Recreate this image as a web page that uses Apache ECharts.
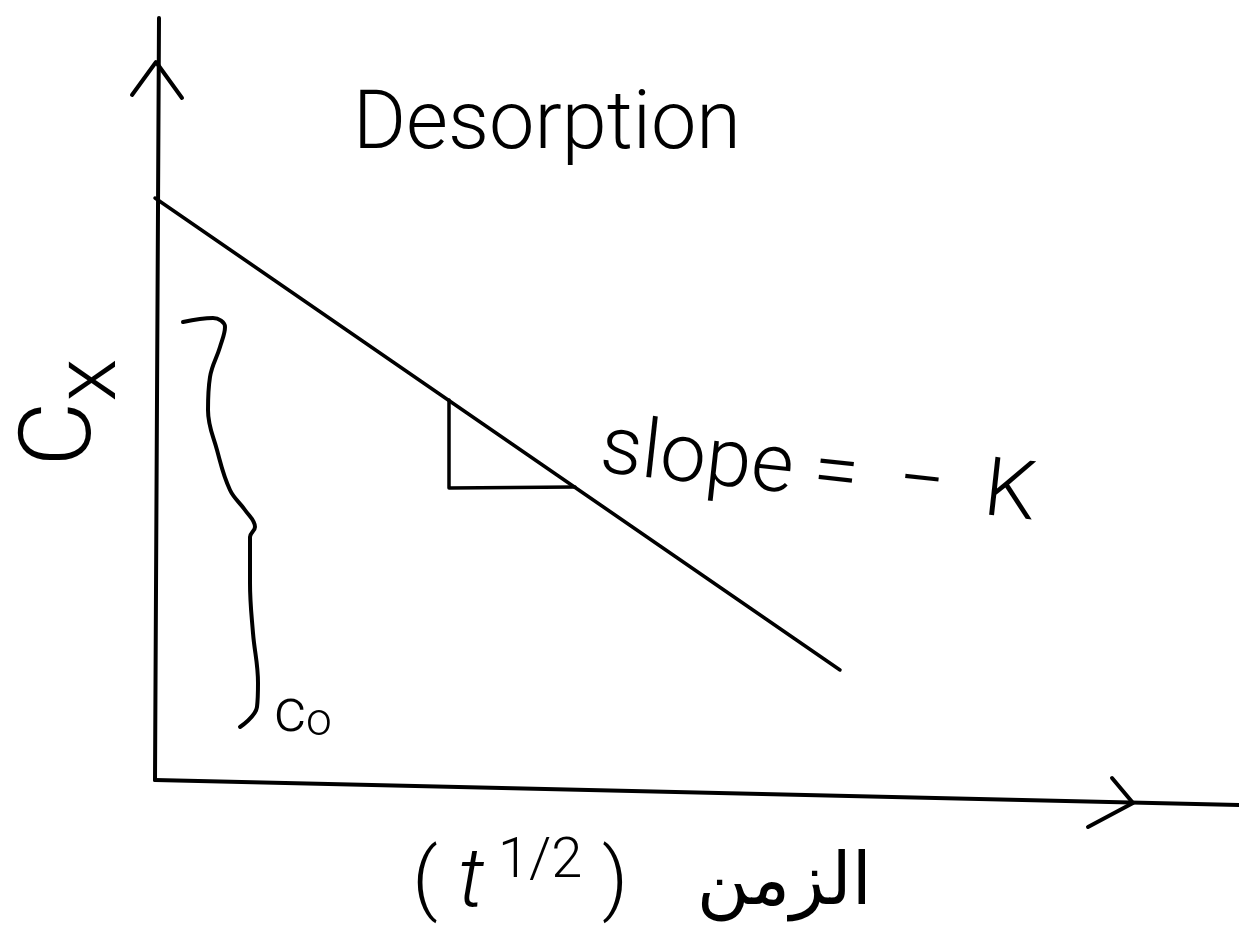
<!DOCTYPE html>
<html>
<head>
<meta charset="utf-8">
<title>Desorption</title>
<script src="https://cdn.jsdelivr.net/npm/echarts@6/dist/echarts.min.js"></script>
<style>
  html, body { margin: 0; padding: 0; background: #ffffff; }
  #chart { width: 1239px; height: 929px; }
</style>
</head>
<body>
<div id="chart"></div>
<script>
// Sketch of desorption kinetics: concentration against the square root of time.
// Units are arbitrary sketch units (one unit per 100 px of the plot).

// Hand-drawn axes (the horizontal one sags slightly to the right)
const yAxisLine = [[0, 0], [0.04, 7.62]];
const xAxisLine = [[0, 0], [10.84, -0.25]];
const yArrowHead = [[-0.23, 6.85], [0.01, 7.18], [0.27, 6.82]];
const xArrowHead = [[9.57, 0.02], [9.78, -0.23], [9.33, -0.47]];

// Straight desorption line, C falls linearly with t^1/2
const desorptionLine = [[0, 5.82], [6.85, 1.10]];

// Slope triangle drawn under the line
const slopeTriangle = [[2.94, 3.80], [2.94, 2.92], [4.20, 2.93]];

// Brace marking the initial concentration c0
const c0Brace = [
  [0.28, 4.58], [0.58, 4.62], [0.70, 4.53], [0.65, 4.33], [0.55, 4.03],
  [0.53, 3.70], [0.62, 3.30], [0.75, 2.90], [0.90, 2.70], [1.00, 2.53],
  [0.95, 2.43], [0.95, 1.97], [0.98, 1.47], [1.03, 0.97], [1.02, 0.73],
  [0.85, 0.53]
];

const ink = '#000000';
const hand = "Roboto, 'Liberation Sans', sans-serif";

function stroke(name, data, width, smooth) {
  return {
    name: name,
    type: 'line',
    data: data,
    smooth: smooth || false,
    showSymbol: false,
    silent: true,
    animation: false,
    lineStyle: { color: ink, width: width, cap: 'round', join: 'round' }
  };
}

const chart = echarts.init(document.getElementById('chart'), null, { renderer: 'canvas' });

chart.setOption({
  backgroundColor: '#ffffff',
  animation: false,
  title: {
    text: 'Desorption',
    left: 348,
    top: 82,
    textStyle: { color: ink, fontFamily: hand, fontWeight: 300, fontSize: 81 }
  },
  grid: { left: 115, right: 0, top: 15, bottom: 99, outerBoundsMode: 'none', containLabel: false },
  xAxis: {
    type: 'value',
    min: -0.4,
    max: 10.84,
    axisLine: { show: false },
    axisTick: { show: false },
    axisLabel: { show: false },
    splitLine: { show: false },
    name: '{p|(}{t| t}{s| 1/2}{p| )}{a|   الزمن}',
    nameLocation: 'middle',
    nameGap: 5,
    nameTextStyle: {
      padding: [0, 70, 0, 0],
      rich: {
        p: { fontFamily: hand, fontWeight: 300, fontSize: 80, color: ink },
        t: { fontFamily: hand, fontWeight: 300, fontSize: 84, color: ink, fontStyle: 'italic' },
        s: { fontFamily: hand, fontWeight: 300, fontSize: 56, color: ink, verticalAlign: 'top', padding: [0, 0, 44, 0] },
        a: { fontFamily: "'DejaVu Sans', sans-serif", fontSize: 72, color: ink }
      }
    }
  },
  yAxis: {
    type: 'value',
    min: -0.5,
    max: 7.65,
    axisLine: { show: false },
    axisTick: { show: false },
    axisLabel: { show: false },
    splitLine: { show: false },
    name: '{c|C}{x|x}',
    nameLocation: 'middle',
    nameRotate: 90,
    nameGap: -22,
    nameTextStyle: {
      padding: [0, 0, 0, 20],
      rich: {
        c: { fontFamily: hand, fontWeight: 300, fontSize: 100, color: ink, verticalAlign: 'top', padding: [0, 0, 22, 0] },
        x: { fontFamily: hand, fontWeight: 300, fontSize: 88, color: ink, verticalAlign: 'bottom' }
      }
    }
  },
  series: [
    stroke('y axis', yAxisLine, 4),
    stroke('x axis', xAxisLine, 4),
    stroke('y arrow', yArrowHead, 4),
    stroke('x arrow', xArrowHead, 4),
    stroke('desorption', desorptionLine, 3.5),
    stroke('slope', slopeTriangle, 3.5),
    stroke('c0 brace', c0Brace, 4, 0.4)
  ],
  graphic: [
    {
      type: 'text',
      x: 596,
      y: 492,
      rotation: -0.11,
      silent: true,
      style: {
        text: 'slope =  −  K',
        fontFamily: hand,
        fontWeight: 300,
        fontSize: 82,
        fill: ink,
        verticalAlign: 'bottom'
      }
    },
    {
      type: 'text',
      x: 274,
      y: 746,
      silent: true,
      style: {
        text: '{c|c}{o|o}',
        verticalAlign: 'bottom',
        rich: {
          c: { fontFamily: hand, fontWeight: 300, fontSize: 62, fill: ink, color: ink },
          o: { fontFamily: hand, fontWeight: 300, fontSize: 46, fill: ink, color: ink, verticalAlign: 'bottom', padding: [10, 0, 0, 0] }
        }
      }
    }
  ]
});
</script>
</body>
</html>
